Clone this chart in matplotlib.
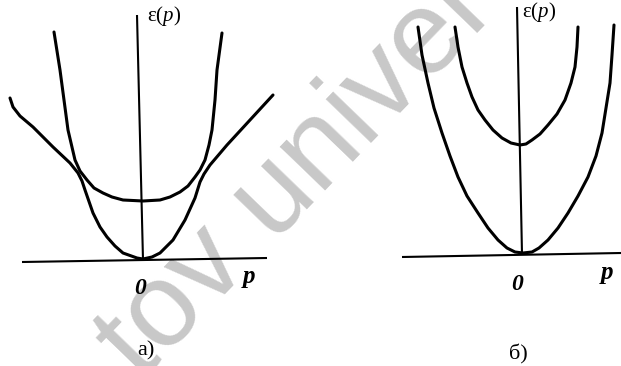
import matplotlib
matplotlib.use("Agg")
import matplotlib.pyplot as plt

plt.rcParams["mathtext.fontset"] = "custom"
plt.rcParams["mathtext.rm"] = "Liberation Serif"
plt.rcParams["mathtext.it"] = "Liberation Serif:italic"
plt.rcParams["font.family"] = ["Liberation Serif", "DejaVu Serif"]

# ---------------- panel a) ----------------
# gapped branch
a_gap_p = [-0.89, -0.83, -0.79, -0.75, -0.68, -0.63, -0.56, -0.49, -0.40, -0.31,
           -0.20, 0.0, 0.17, 0.27, 0.37, 0.45, 0.52, 0.57, 0.62, 0.66, 0.69,
           0.72, 0.74, 0.79]
a_gap_e = [2.28, 1.90, 1.60, 1.30, 1.00, 0.89, 0.80, 0.72, 0.67, 0.63,
           0.60, 0.59, 0.60, 0.63, 0.68, 0.74, 0.83, 0.90, 1.00, 1.15, 1.30,
           1.60, 1.90, 2.27]
# gapless branch: quadratic near p = 0, linear at large |p|
a_low_p = [-1.33, -1.30, -1.23, -1.10, -0.90, -0.73, -0.65, -0.61, -0.58, -0.50,
           -0.43, -0.36, -0.28, -0.20, -0.06, 0.0, 0.09, 0.17, 0.30, 0.42,
           0.52, 0.57, 0.61, 0.67, 0.84, 1.07, 1.30]
a_low_e = [1.62, 1.53, 1.44, 1.33, 1.13, 0.97, 0.87, 0.79, 0.70, 0.47,
           0.33, 0.23, 0.14, 0.07, 0.02, 0.01, 0.03, 0.07, 0.20, 0.40,
           0.62, 0.78, 0.86, 0.95, 1.15, 1.40, 1.65]
a_axis_v_p = [-0.06, 0.0]
a_axis_v_e = [2.45, 0.0]
a_axis_h_p = [-1.21, 1.24]
a_axis_h_e = [-0.02, 0.02]

# ---------------- panel б) ----------------
b_low_p = [-1.03, -0.99, -0.93, -0.87, -0.79, -0.71, -0.63, -0.54, -0.43, -0.33,
           -0.23, -0.14, -0.06, 0.02, 0.11, 0.18, 0.27, 0.37, 0.47, 0.57,
           0.67, 0.75, 0.81, 0.85, 0.89, 0.91, 0.93]
b_low_e = [2.28, 2.00, 1.72, 1.47, 1.22, 0.99, 0.78, 0.59, 0.42, 0.27,
           0.15, 0.07, 0.03, 0.02, 0.03, 0.07, 0.15, 0.27, 0.42, 0.59,
           0.78, 0.99, 1.22, 1.47, 1.72, 2.00, 2.30]
b_gap_p = [-0.66, -0.63, -0.59, -0.54, -0.49, -0.43, -0.36, -0.28, -0.19, -0.10,
           -0.01, 0.05, 0.11, 0.19, 0.27, 0.36, 0.44, 0.50, 0.54, 0.56, 0.57]
b_gap_e = [2.28, 2.08, 1.88, 1.72, 1.58, 1.45, 1.35, 1.25, 1.17, 1.12,
           1.10, 1.11, 1.15, 1.21, 1.30, 1.41, 1.55, 1.72, 1.88, 2.08, 2.28]
b_axis_v_p = [-0.04, 0.01]
b_axis_v_e = [2.48, 0.01]
b_axis_h_p = [-1.19, 1.00]
b_axis_h_e = [-0.02, 0.02]

panel_labels = ["а)", "б)"]
axis_label_y = "ε($p$)"
axis_label_x = "p"
origin_label = "0"

W, H = 621, 366
fig = plt.figure(figsize=(W / 100, H / 100), dpi=100)
fig.patch.set_facecolor("white")

# light diagonal watermark behind the drawing
fig.text(140 / W, 1 - 382 / H, "tov univer", rotation=46, rotation_mode="anchor",
         ha="left", va="baseline", fontsize=86, color="#c8c8c8",
         family="Liberation Sans", zorder=-5)

ax_a = fig.add_axes([0, 0, 310 / W, 1])
ax_b = fig.add_axes([310 / W, 0, 311 / W, 1])
ax_a.set_xlim(-1.43, 1.67)
ax_a.set_ylim(-1.06, 2.60)
ax_b.set_xlim(-2.11, 1.00)
ax_b.set_ylim(-1.11, 2.55)

curve_kw = dict(color="black", lw=2.2, solid_capstyle="round", solid_joinstyle="round")
axis_kw = dict(color="black", lw=1.5, solid_capstyle="butt")

for ax in (ax_a, ax_b):
    ax.set_axis_off()
    ax.patch.set_alpha(0)

ax_a.plot(a_axis_v_p, a_axis_v_e, **axis_kw)
ax_a.plot(a_axis_h_p, a_axis_h_e, **axis_kw)
ax_a.plot(a_gap_p, a_gap_e, **curve_kw)
ax_a.plot(a_low_p, a_low_e, **curve_kw)

ax_b.plot(b_axis_v_p, b_axis_v_e, **axis_kw)
ax_b.plot(b_axis_h_p, b_axis_h_e, **axis_kw)
ax_b.plot(b_low_p, b_low_e, **curve_kw)
ax_b.plot(b_gap_p, b_gap_e, **curve_kw)

# labels
label_kw = dict(ha="center", va="center", style="italic", weight="bold")
ax_a.text(0.04, 2.44, axis_label_y, fontsize=15, ha="left", va="center")
ax_a.text(1.06, -0.16, axis_label_x, fontsize=18, **label_kw)
ax_a.text(-0.03, -0.28, origin_label, fontsize=17, **label_kw)
ax_a.text(0.03, -0.91, panel_labels[0], fontsize=16, ha="center", va="center")

ax_b.text(0.01, 2.43, axis_label_y, fontsize=15, ha="left", va="center")
ax_b.text(0.86, -0.17, axis_label_x, fontsize=18, **label_kw)
ax_b.text(-0.04, -0.30, origin_label, fontsize=17, **label_kw)
ax_b.text(-0.03, -0.99, panel_labels[1], fontsize=16, ha="center", va="center")

fig.savefig("out.png", dpi=100, facecolor="white")
